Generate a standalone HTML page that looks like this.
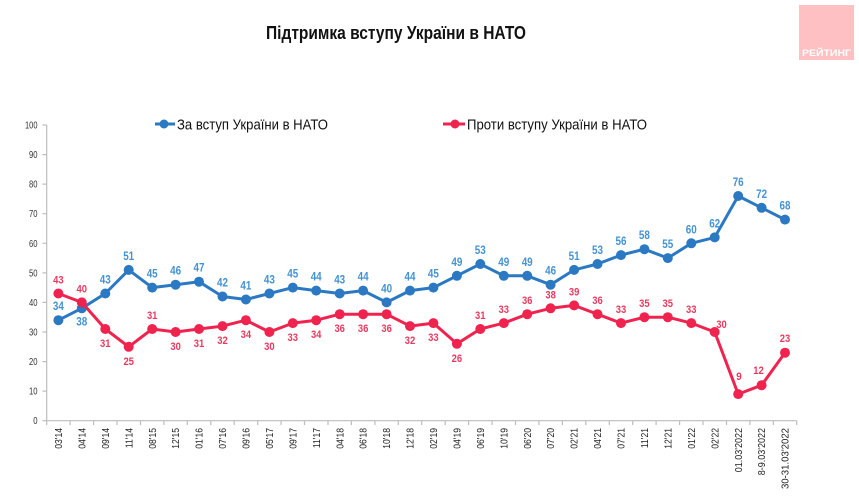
<!DOCTYPE html>
<html><head><meta charset="utf-8"><style>
html,body{margin:0;padding:0;background:#fff;}
svg{display:block;}
text{font-family:"Liberation Sans",Arial,sans-serif;}
</style></head><body>
<svg width="859" height="500" viewBox="0 0 859 500" xmlns="http://www.w3.org/2000/svg">
<rect width="859" height="500" fill="#fff"/>
<!-- logo -->
<rect x="799" y="5" width="55" height="55" fill="#ffc0c3"/>
<text x="826.5" y="56" text-anchor="middle" font-size="9" font-weight="bold" fill="#fff" textLength="49" lengthAdjust="spacingAndGlyphs">РЕЙТИНГ</text>
<!-- title -->
<text x="266" y="39" font-size="18.5" font-weight="bold" fill="#111" textLength="260" lengthAdjust="spacingAndGlyphs">Підтримка вступу України в НАТО</text>
<!-- legend -->
<line x1="155" y1="124" x2="175" y2="124" stroke="#2b79c2" stroke-width="3"/>
<circle cx="164" cy="124" r="4.5" fill="#2b79c2"/>
<text x="177" y="129.5" font-size="15" fill="#111" textLength="151" lengthAdjust="spacingAndGlyphs">За вступ України в НАТО</text>
<line x1="443" y1="124" x2="465" y2="124" stroke="#f0234f" stroke-width="3"/>
<circle cx="455" cy="124" r="4.5" fill="#f0234f"/>
<text x="467" y="129.5" font-size="15" fill="#111" textLength="180" lengthAdjust="spacingAndGlyphs">Проти вступу України в НАТО</text>
<!-- axes -->
<g stroke="#bdbdbd" stroke-width="1.2" fill="none">
<line x1="46.7" y1="125" x2="46.7" y2="420.7"/>
<line x1="46.7" y1="420.7" x2="796.7" y2="420.7"/>
<path d="M42.5 125H46.7M42.5 154.6H46.7M42.5 184.1H46.7M42.5 213.7H46.7M42.5 243.3H46.7M42.5 272.9H46.7M42.5 302.4H46.7M42.5 332H46.7M42.5 361.6H46.7M42.5 391.1H46.7M42.5 420.7H46.7"/>
<path d="M46.7 420.7V425M70.1 420.7V425M93.6 420.7V425M117 420.7V425M140.5 420.7V425M163.9 420.7V425M187.3 420.7V425M210.8 420.7V425M234.2 420.7V425M257.7 420.7V425M281.1 420.7V425M304.5 420.7V425M328 420.7V425M351.4 420.7V425M374.9 420.7V425M398.3 420.7V425M421.7 420.7V425M445.2 420.7V425M468.6 420.7V425M492.1 420.7V425M515.5 420.7V425M538.9 420.7V425M562.4 420.7V425M585.8 420.7V425M609.3 420.7V425M632.7 420.7V425M656.1 420.7V425M679.6 420.7V425M703 420.7V425M726.5 420.7V425M749.9 420.7V425M773.3 420.7V425M796.7 420.7V425"/>
</g>
<!-- y labels -->
<g font-size="10" fill="#333" text-anchor="end">
<text x="37.5" y="128.5" textLength="12.5" lengthAdjust="spacingAndGlyphs">100</text>
<text x="37.5" y="158.1" textLength="8.5" lengthAdjust="spacingAndGlyphs">90</text>
<text x="37.5" y="187.6" textLength="8.5" lengthAdjust="spacingAndGlyphs">80</text>
<text x="37.5" y="217.2" textLength="8.5" lengthAdjust="spacingAndGlyphs">70</text>
<text x="37.5" y="246.8" textLength="8.5" lengthAdjust="spacingAndGlyphs">60</text>
<text x="37.5" y="276.4" textLength="8.5" lengthAdjust="spacingAndGlyphs">50</text>
<text x="37.5" y="305.9" textLength="8.5" lengthAdjust="spacingAndGlyphs">40</text>
<text x="37.5" y="335.5" textLength="8.5" lengthAdjust="spacingAndGlyphs">30</text>
<text x="37.5" y="365.1" textLength="8.5" lengthAdjust="spacingAndGlyphs">20</text>
<text x="37.5" y="394.6" textLength="8.5" lengthAdjust="spacingAndGlyphs">10</text>
<text x="37.5" y="424.2" textLength="4.3" lengthAdjust="spacingAndGlyphs">0</text>
</g>
<!-- x labels -->
<g font-size="10" fill="#222" text-anchor="end">
<text transform="translate(62,428) rotate(-90) scale(0.86,1)">03'14</text>
<text transform="translate(85.4,428) rotate(-90) scale(0.86,1)">04'14</text>
<text transform="translate(108.9,428) rotate(-90) scale(0.86,1)">09'14</text>
<text transform="translate(132.3,428) rotate(-90) scale(0.86,1)">11'14</text>
<text transform="translate(155.8,428) rotate(-90) scale(0.86,1)">08'15</text>
<text transform="translate(179.2,428) rotate(-90) scale(0.86,1)">12'15</text>
<text transform="translate(202.6,428) rotate(-90) scale(0.86,1)">01'16</text>
<text transform="translate(226.1,428) rotate(-90) scale(0.86,1)">07'16</text>
<text transform="translate(249.5,428) rotate(-90) scale(0.86,1)">09'16</text>
<text transform="translate(273,428) rotate(-90) scale(0.86,1)">05'17</text>
<text transform="translate(296.4,428) rotate(-90) scale(0.86,1)">09'17</text>
<text transform="translate(319.8,428) rotate(-90) scale(0.86,1)">11'17</text>
<text transform="translate(343.3,428) rotate(-90) scale(0.86,1)">04'18</text>
<text transform="translate(366.7,428) rotate(-90) scale(0.86,1)">06'18</text>
<text transform="translate(390.2,428) rotate(-90) scale(0.86,1)">10'18</text>
<text transform="translate(413.6,428) rotate(-90) scale(0.86,1)">12'18</text>
<text transform="translate(437,428) rotate(-90) scale(0.86,1)">02'19</text>
<text transform="translate(460.5,428) rotate(-90) scale(0.86,1)">04'19</text>
<text transform="translate(483.9,428) rotate(-90) scale(0.86,1)">06'19</text>
<text transform="translate(507.4,428) rotate(-90) scale(0.86,1)">10'19</text>
<text transform="translate(530.8,428) rotate(-90) scale(0.86,1)">06'20</text>
<text transform="translate(554.2,428) rotate(-90) scale(0.86,1)">07'20</text>
<text transform="translate(577.7,428) rotate(-90) scale(0.86,1)">02'21</text>
<text transform="translate(601.1,428) rotate(-90) scale(0.86,1)">04'21</text>
<text transform="translate(624.6,428) rotate(-90) scale(0.86,1)">07'21</text>
<text transform="translate(648,428) rotate(-90) scale(0.86,1)">11'21</text>
<text transform="translate(671.4,428) rotate(-90) scale(0.86,1)">12'21</text>
<text transform="translate(694.9,428) rotate(-90) scale(0.86,1)">01'22</text>
<text transform="translate(718.3,428) rotate(-90) scale(0.86,1)">02'22</text>
<text transform="translate(741.8,428) rotate(-90) scale(0.9,1)">01.03'2022</text>
<text transform="translate(765.2,428) rotate(-90) scale(0.9,1)">8-9.03'2022</text>
<text transform="translate(788.6,428) rotate(-90) scale(0.96,1)">30-31.03'2022</text>
</g>
<!-- blue series -->
<polyline fill="none" stroke="#2b79c2" stroke-width="3" stroke-linejoin="round" points="58.4,320.2 81.8,308.3 105.3,293.5 128.7,269.9 152.2,287.6 175.6,284.7 199,281.7 222.5,296.5 245.9,299.5 269.4,293.5 292.8,287.6 316.2,290.6 339.7,293.5 363.1,290.6 386.6,302.4 410,290.6 433.4,287.6 456.9,275.8 480.3,264 503.8,275.8 527.2,275.8 550.6,284.7 574.1,269.9 597.5,264 621,255.1 644.4,249.2 667.8,258.1 691.3,243.3 714.7,237.4 738.2,196 761.6,207.8 785,219.6"/>
<g fill="#2b79c2">
<circle cx="58.4" cy="320.2" r="5"/><circle cx="81.8" cy="308.3" r="5"/><circle cx="105.3" cy="293.5" r="5"/><circle cx="128.7" cy="269.9" r="5"/><circle cx="152.2" cy="287.6" r="5"/><circle cx="175.6" cy="284.7" r="5"/><circle cx="199" cy="281.7" r="5"/><circle cx="222.5" cy="296.5" r="5"/><circle cx="245.9" cy="299.5" r="5"/><circle cx="269.4" cy="293.5" r="5"/><circle cx="292.8" cy="287.6" r="5"/><circle cx="316.2" cy="290.6" r="5"/><circle cx="339.7" cy="293.5" r="5"/><circle cx="363.1" cy="290.6" r="5"/><circle cx="386.6" cy="302.4" r="5"/><circle cx="410" cy="290.6" r="5"/><circle cx="433.4" cy="287.6" r="5"/><circle cx="456.9" cy="275.8" r="5"/><circle cx="480.3" cy="264" r="5"/><circle cx="503.8" cy="275.8" r="5"/><circle cx="527.2" cy="275.8" r="5"/><circle cx="550.6" cy="284.7" r="5"/><circle cx="574.1" cy="269.9" r="5"/><circle cx="597.5" cy="264" r="5"/><circle cx="621" cy="255.1" r="5"/><circle cx="644.4" cy="249.2" r="5"/><circle cx="667.8" cy="258.1" r="5"/><circle cx="691.3" cy="243.3" r="5"/><circle cx="714.7" cy="237.4" r="5"/><circle cx="738.2" cy="196" r="5"/><circle cx="761.6" cy="207.8" r="5"/><circle cx="785" cy="219.6" r="5"/>
</g>
<!-- red series -->
<polyline fill="none" stroke="#f0234f" stroke-width="3" stroke-linejoin="round" points="58.4,293.5 81.8,302.4 105.3,329 128.7,346.8 152.2,329 175.6,332 199,329 222.5,326.1 245.9,320.2 269.4,332 292.8,323.1 316.2,320.2 339.7,314.2 363.1,314.2 386.6,314.2 410,326.1 433.4,323.1 456.9,343.8 480.3,329 503.8,323.1 527.2,314.2 550.6,308.3 574.1,305.4 597.5,314.2 621,323.1 644.4,317.2 667.8,317.2 691.3,323.1 714.7,332 738.2,394.1 761.6,385.2 785,352.7"/>
<g fill="#f0234f">
<circle cx="58.4" cy="293.5" r="5"/><circle cx="81.8" cy="302.4" r="5"/><circle cx="105.3" cy="329" r="5"/><circle cx="128.7" cy="346.8" r="5"/><circle cx="152.2" cy="329" r="5"/><circle cx="175.6" cy="332" r="5"/><circle cx="199" cy="329" r="5"/><circle cx="222.5" cy="326.1" r="5"/><circle cx="245.9" cy="320.2" r="5"/><circle cx="269.4" cy="332" r="5"/><circle cx="292.8" cy="323.1" r="5"/><circle cx="316.2" cy="320.2" r="5"/><circle cx="339.7" cy="314.2" r="5"/><circle cx="363.1" cy="314.2" r="5"/><circle cx="386.6" cy="314.2" r="5"/><circle cx="410" cy="326.1" r="5"/><circle cx="433.4" cy="323.1" r="5"/><circle cx="456.9" cy="343.8" r="5"/><circle cx="480.3" cy="329" r="5"/><circle cx="503.8" cy="323.1" r="5"/><circle cx="527.2" cy="314.2" r="5"/><circle cx="550.6" cy="308.3" r="5"/><circle cx="574.1" cy="305.4" r="5"/><circle cx="597.5" cy="314.2" r="5"/><circle cx="621" cy="323.1" r="5"/><circle cx="644.4" cy="317.2" r="5"/><circle cx="667.8" cy="317.2" r="5"/><circle cx="691.3" cy="323.1" r="5"/><circle cx="714.7" cy="332" r="5"/><circle cx="738.2" cy="394.1" r="5"/><circle cx="761.6" cy="385.2" r="5"/><circle cx="785" cy="352.7" r="5"/>
</g>
<!-- blue labels -->
<g font-size="11.5" font-weight="bold" fill="#4592d3" text-anchor="middle">
<text x="58.4" y="310.2" textLength="11" lengthAdjust="spacingAndGlyphs">34</text>
<text x="81.8" y="325.3" textLength="11" lengthAdjust="spacingAndGlyphs">38</text>
<text x="105.3" y="283.5" textLength="11" lengthAdjust="spacingAndGlyphs">43</text>
<text x="128.7" y="259.9" textLength="11" lengthAdjust="spacingAndGlyphs">51</text>
<text x="152.2" y="277.6" textLength="11" lengthAdjust="spacingAndGlyphs">45</text>
<text x="175.6" y="274.7" textLength="11" lengthAdjust="spacingAndGlyphs">46</text>
<text x="199" y="271.7" textLength="11" lengthAdjust="spacingAndGlyphs">47</text>
<text x="222.5" y="286.5" textLength="11" lengthAdjust="spacingAndGlyphs">42</text>
<text x="245.9" y="289.5" textLength="11" lengthAdjust="spacingAndGlyphs">41</text>
<text x="269.4" y="283.5" textLength="11" lengthAdjust="spacingAndGlyphs">43</text>
<text x="292.8" y="277.6" textLength="11" lengthAdjust="spacingAndGlyphs">45</text>
<text x="316.2" y="280.6" textLength="11" lengthAdjust="spacingAndGlyphs">44</text>
<text x="339.7" y="283.5" textLength="11" lengthAdjust="spacingAndGlyphs">43</text>
<text x="363.1" y="280.6" textLength="11" lengthAdjust="spacingAndGlyphs">44</text>
<text x="386.6" y="292.4" textLength="11" lengthAdjust="spacingAndGlyphs">40</text>
<text x="410" y="280.6" textLength="11" lengthAdjust="spacingAndGlyphs">44</text>
<text x="433.4" y="277.6" textLength="11" lengthAdjust="spacingAndGlyphs">45</text>
<text x="456.9" y="265.8" textLength="11" lengthAdjust="spacingAndGlyphs">49</text>
<text x="480.3" y="254" textLength="11" lengthAdjust="spacingAndGlyphs">53</text>
<text x="503.8" y="265.8" textLength="11" lengthAdjust="spacingAndGlyphs">49</text>
<text x="527.2" y="265.8" textLength="11" lengthAdjust="spacingAndGlyphs">49</text>
<text x="550.6" y="274.7" textLength="11" lengthAdjust="spacingAndGlyphs">46</text>
<text x="574.1" y="259.9" textLength="11" lengthAdjust="spacingAndGlyphs">51</text>
<text x="597.5" y="254" textLength="11" lengthAdjust="spacingAndGlyphs">53</text>
<text x="621" y="245.1" textLength="11" lengthAdjust="spacingAndGlyphs">56</text>
<text x="644.4" y="239.2" textLength="11" lengthAdjust="spacingAndGlyphs">58</text>
<text x="667.8" y="248.1" textLength="11" lengthAdjust="spacingAndGlyphs">55</text>
<text x="691.3" y="233.3" textLength="11" lengthAdjust="spacingAndGlyphs">60</text>
<text x="714.7" y="227.4" textLength="11" lengthAdjust="spacingAndGlyphs">62</text>
<text x="738.2" y="186" textLength="11" lengthAdjust="spacingAndGlyphs">76</text>
<text x="761.6" y="197.8" textLength="11" lengthAdjust="spacingAndGlyphs">72</text>
<text x="785" y="209.6" textLength="11" lengthAdjust="spacingAndGlyphs">68</text>
</g>
<!-- red labels -->
<g font-size="11" font-weight="bold" fill="#e8395f" text-anchor="middle">
<text x="58.4" y="283.5" textLength="10.5" lengthAdjust="spacingAndGlyphs">43</text>
<text x="81.8" y="292.4" textLength="10.5" lengthAdjust="spacingAndGlyphs">40</text>
<text x="105.3" y="347" textLength="10.5" lengthAdjust="spacingAndGlyphs">31</text>
<text x="128.7" y="364.8" textLength="10.5" lengthAdjust="spacingAndGlyphs">25</text>
<text x="152.2" y="319" textLength="10.5" lengthAdjust="spacingAndGlyphs">31</text>
<text x="175.6" y="350" textLength="10.5" lengthAdjust="spacingAndGlyphs">30</text>
<text x="199" y="347" textLength="10.5" lengthAdjust="spacingAndGlyphs">31</text>
<text x="222.5" y="344.1" textLength="10.5" lengthAdjust="spacingAndGlyphs">32</text>
<text x="245.9" y="338.2" textLength="10.5" lengthAdjust="spacingAndGlyphs">34</text>
<text x="269.4" y="350" textLength="10.5" lengthAdjust="spacingAndGlyphs">30</text>
<text x="292.8" y="341.1" textLength="10.5" lengthAdjust="spacingAndGlyphs">33</text>
<text x="316.2" y="338.2" textLength="10.5" lengthAdjust="spacingAndGlyphs">34</text>
<text x="339.7" y="332.2" textLength="10.5" lengthAdjust="spacingAndGlyphs">36</text>
<text x="363.1" y="332.2" textLength="10.5" lengthAdjust="spacingAndGlyphs">36</text>
<text x="386.6" y="332.2" textLength="10.5" lengthAdjust="spacingAndGlyphs">36</text>
<text x="410" y="344.1" textLength="10.5" lengthAdjust="spacingAndGlyphs">32</text>
<text x="433.4" y="341.1" textLength="10.5" lengthAdjust="spacingAndGlyphs">33</text>
<text x="456.9" y="361.8" textLength="10.5" lengthAdjust="spacingAndGlyphs">26</text>
<text x="480.3" y="319" textLength="10.5" lengthAdjust="spacingAndGlyphs">31</text>
<text x="503.8" y="313.1" textLength="10.5" lengthAdjust="spacingAndGlyphs">33</text>
<text x="527.2" y="304.2" textLength="10.5" lengthAdjust="spacingAndGlyphs">36</text>
<text x="550.6" y="298.3" textLength="10.5" lengthAdjust="spacingAndGlyphs">38</text>
<text x="574.1" y="295.4" textLength="10.5" lengthAdjust="spacingAndGlyphs">39</text>
<text x="597.5" y="304.2" textLength="10.5" lengthAdjust="spacingAndGlyphs">36</text>
<text x="621" y="313.1" textLength="10.5" lengthAdjust="spacingAndGlyphs">33</text>
<text x="644.4" y="307.2" textLength="10.5" lengthAdjust="spacingAndGlyphs">35</text>
<text x="667.8" y="307.2" textLength="10.5" lengthAdjust="spacingAndGlyphs">35</text>
<text x="691.3" y="313.1" textLength="10.5" lengthAdjust="spacingAndGlyphs">33</text>
<text x="721.5" y="328" textLength="10.5" lengthAdjust="spacingAndGlyphs">30</text>
<text x="739" y="380" textLength="5.5" lengthAdjust="spacingAndGlyphs">9</text>
<text x="758.5" y="374" textLength="10.5" lengthAdjust="spacingAndGlyphs">12</text>
<text x="785" y="342" textLength="10.5" lengthAdjust="spacingAndGlyphs">23</text>
</g>
</svg>
</body></html>
